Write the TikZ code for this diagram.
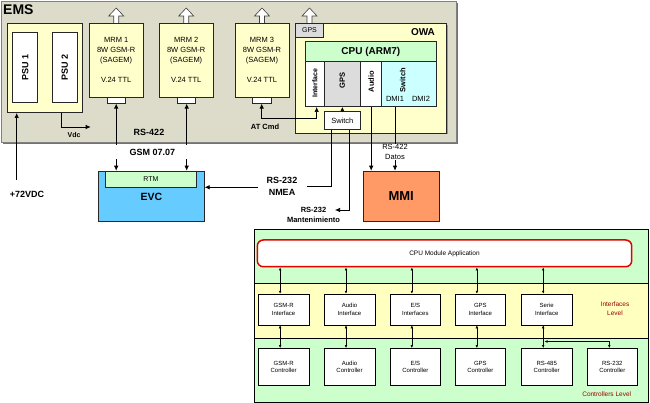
\documentclass[tikz,border=0pt]{standalone}
\usepackage{fontspec}
\setmainfont{Liberation Sans}
\usetikzlibrary{arrows.meta,calc}
\newcommand\fsz[2]{\fontsize{#1}{#2}\selectfont}
\definecolor{emsgrey}{HTML}{DDDBCA}
\definecolor{pale}{HTML}{FFFFCC}
\definecolor{palegreen}{HTML}{CCFFCC}
\definecolor{paleyel}{HTML}{FFFFC0}
\definecolor{palecyan}{HTML}{CCFFFF}
\definecolor{lgrey}{HTML}{DCDCDC}
\definecolor{evcblue}{HTML}{66CCFF}
\definecolor{mmiorange}{HTML}{FF9966}
\definecolor{maroon}{HTML}{990000}
\tikzset{
  box/.style={draw=black!85, line width=0.6pt, inner sep=0pt, align=center},
  arr/.style={-{Latex[length=5pt,width=4.5pt]}, line width=0.7pt},
  arrboth/.style={{Latex[length=5pt,width=4.5pt]}-{Latex[length=5pt,width=4.5pt]}, line width=0.7pt},
  sarr/.style={{Latex[length=3pt,width=2.6pt]}-{Latex[length=3pt,width=2.6pt]}, line width=0.5pt},
  lbl/.style={inner sep=0pt, align=center},
  blk/.style={draw=black, line width=0.5pt, fill=white, inner sep=0pt, align=center,
    minimum width=50.7, font=\fsz{6}{7.5}},
  hollowup/.pic={\draw[fill=white, draw=black!75, line width=0.6pt]
     (-2.5,15) -- (-2.5,8) -- (-7.5,8) -- (0,0) -- (7.5,8) -- (2.5,8) -- (2.5,15);}
}
\begin{document}
\begin{tikzpicture}[x=1pt,y=-1pt]
\path[fill=white,use as bounding box] (0,0) rectangle (650,403);

% ---------- EMS ----------
\fill[black!55] (3,3) rectangle (458,144);
\node[box, draw=black!50, line width=0.6pt, fill=emsgrey, minimum width=455, minimum height=141] (ems) at (228.5,71.5) {};
\node[lbl, font=\fsz{14}{16}\bfseries, anchor=west] (emst) at (3,10) {EMS};

% hollow arrows
\pic at (116.2,8) {hollowup};
\pic at (186.2,8) {hollowup};
\pic at (262,8) {hollowup};
\pic at (309.5,8) {hollowup};

% PSU
\node[box, fill=pale, minimum width=75.4, minimum height=89.4] (psu) at (45,68) {};
\node[box, fill=white, minimum width=25, minimum height=70] (psu1) at (25.2,67.3) {};
\node[box, fill=white, minimum width=25, minimum height=70] (psu2) at (64.8,67.3) {};
\node[lbl, rotate=90, font=\fsz{9}{10}\bfseries] at (psu1) {PSU 1};
\node[lbl, rotate=90, font=\fsz{9}{10}\bfseries] at (psu2) {PSU 2};

% MRM
\node[box, fill=pale, minimum width=54.3, minimum height=74, font=\fsz{7.5}{10}] (mrm1) at (116.2,60.3) {MRM 1\\8W GSM-R\\(SAGEM)\\[10pt]V.24 TTL};
\node[box, fill=pale, minimum width=54.3, minimum height=74, font=\fsz{7.5}{10}] (mrm2) at (186.2,60.3) {MRM 2\\8W GSM-R\\(SAGEM)\\[10pt]V.24 TTL};
\node[box, fill=pale, minimum width=54, minimum height=74, font=\fsz{7.5}{10}] (mrm3) at (262,60.3) {MRM 3\\8W GSM-R\\(SAGEM)\\[10pt]V.24 TTL};
\node[box, fill=white, minimum width=17.7, minimum height=6] (tab1) at (116.2,100.3) {};
\node[box, fill=white, minimum width=17.7, minimum height=6] (tab2) at (186.2,100.3) {};
\node[box, fill=white, minimum width=18.7, minimum height=6] (tab3) at (261.7,100.3) {};

% OWA
\fill[black!40] (297.2,24.8) rectangle (448.2,134.5);
\node[box, fill=pale, minimum width=151, minimum height=109.7] (owa) at (371.2,78.2) {};
\node[box, fill=lgrey, minimum width=27.6, minimum height=14.4, font=\fsz{7}{8}] (gpsb) at (309.5,30.5) {GPS};
\node[lbl, font=\fsz{10}{12}\bfseries] (owat) at (423,32) {OWA};
\node[box, fill=palegreen, minimum width=130.3, minimum height=20, font=\fsz{10}{12}\bfseries] (cpu) at (370.85,51.7) {CPU (ARM7)};
\node[box, fill=white, minimum width=18.3, minimum height=45] (intf) at (314.85,84.2) {};
\node[box, fill=lgrey, minimum width=36.7, minimum height=45] (gpsc) at (342.35,84.2) {};
\node[box, fill=white, minimum width=21, minimum height=45] (audio) at (371.2,84.2) {};
\node[box, fill=palecyan, minimum width=54.3, minimum height=45] (swc) at (408.85,84.2) {};
\node[lbl, rotate=90, font=\fsz{7}{8}\bfseries] at (314.85,83.3) {Interface};
\node[lbl, rotate=90, font=\fsz{7.5}{8}\bfseries] at (342.35,80.5) {GPS};
\node[lbl, rotate=90, font=\fsz{7.5}{8}\bfseries] at (371.2,81.7) {Audio};
\node[lbl, rotate=90, font=\fsz{7.5}{8}\bfseries] at (402.7,80) {Switch};
\node[lbl, font=\fsz{7.5}{8}] (dmi1) at (395,99) {DMI1};
\node[lbl, font=\fsz{7.5}{8}] (dmi2) at (421,99) {DMI2};
\node[box, fill=white, minimum width=36.7, minimum height=17.6, font=\fsz{7.5}{8}] (sw) at (342.35,120.5) {Switch};

% EVC / MMI
\node[box, fill=evcblue, minimum width=106, minimum height=50] (evc) at (151.3,196) {};
\node[box, fill=palegreen, minimum width=91.7, minimum height=16.7, font=\fsz{7}{8}] (rtm) at (150.85,179.35) {RTM};
\node[lbl, font=\fsz{10.5}{12}\bfseries] (evct) at (151.3,196.5) {EVC};
\node[box, fill=mmiorange, minimum width=75.7, minimum height=50, font=\fsz{13}{15}\bfseries] (mmi) at (401.15,196) {MMI};

% labels
\node[lbl, font=\fsz{9}{10}\bfseries] (v72) at (27,194) {+72VDC};
\node[lbl, font=\fsz{7}{8}\bfseries] (vdc) at (74,134.7) {Vdc};
\node[lbl, font=\fsz{9}{10}\bfseries] (rs422) at (149,132) {RS-422};
\node[lbl, font=\fsz{9}{10}\bfseries] (gsm) at (152.5,152.7) {GSM 07.07};
\node[lbl, font=\fsz{7.5}{8}\bfseries] (atcmd) at (265,126.7) {AT Cmd};
\node[lbl, font=\fsz{9}{12.3}\bfseries] (nmea) at (282,186.2) {RS-232\\NMEA};
\node[lbl, font=\fsz{7.5}{10}\bfseries] (mant) at (313.5,215) {RS-232\\Mantenimiento};
\node[lbl, font=\fsz{7.5}{10}] (datos) at (395,152.3) {RS-422\\Datos};

% connectors
\coordinate (c72) at (16.7,180);
\draw[arr] (c72) -- (c72 |- psu.south);
\coordinate (vdcend) at (90.7,127);
\draw[arr] ([xshift=16.7]psu.south) |- (vdcend);
\coordinate (g1a) at (116.2,145);
\coordinate (g2a) at (186.7,145);
\coordinate (g1b) at (116.2,159);
\coordinate (g2b) at (186.7,159);
\draw[arr] (g1a) -- (g1a |- tab1.south);
\draw[arr] (g2a) -- (g2a |- tab2.south);
\draw[arr] (g1b) -- (g1b |- rtm.north);
\draw[arr] (g2b) -- (g2b |- rtm.north);
\draw[arrboth] (tab3.south) -- ++(0,14.4) -| ([xshift=1.8]intf.south);
\draw[-{Latex[length=4pt,width=4pt]}, line width=0.7pt] (sw.north) -- (gpsc.south);
\coordinate (nmeaR) at (306.7,186);
\draw[line width=0.7pt] ([xshift=-10.65]sw.south) |- (nmeaR);
\coordinate (nmeaL) at (258,187.3);
\draw[arr] (nmeaL) -- (nmeaL -| evc.east);
\coordinate (mantR) at (335,210);
\draw[arr] ([xshift=7]sw.south) |- (mantR);
\draw[arr] (audio.south) -- (audio.south |- mmi.north);
\draw[line width=0.7pt] (dmi1.south |- swc.south) -- (datos.north);
\draw[arr] (datos.south) -- (datos.south |- mmi.north);

% ---------- Software block ----------
\node[draw=black, line width=0.6pt, fill=palegreen, minimum width=394, minimum height=54.3, inner sep=0pt, anchor=north west] (bandA) at (254,229) {};
\node[draw=black, line width=0.6pt, fill=paleyel, minimum width=394, minimum height=54.4, inner sep=0pt, anchor=north west] (bandB) at (254,283.3) {};
\node[draw=black, line width=0.6pt, fill=palegreen, minimum width=394, minimum height=64.6, inner sep=0pt, anchor=north west] (bandC) at (254,337.7) {};
\node[draw=red!90!black, line width=1.5pt, fill=white, rounded corners=6pt, minimum width=374.4, minimum height=26.7, inner sep=0pt, font=\fsz{6.5}{8}] (app) at (444.5,253.35) {CPU Module Application};

\node[blk, minimum height=31] (i1) at (283.65,309.5) {GSM-R\\Interface};
\node[blk, minimum height=31] (i2) at (349.5,309.5) {Audio\\Interface};
\node[blk, minimum height=31] (i3) at (415.35,309.5) {E/S\\Interfaces};
\node[blk, minimum height=31] (i4) at (480.35,309.5) {GPS\\Interface};
\node[blk, minimum height=31] (i5) at (546.7,309.5) {Serie\\Interface};
\node[lbl, text=maroon, font=\fsz{6.5}{9}] (ilev) at (615,308.7) {Interfaces\\Level};

\node[blk, minimum height=37.4] (k1) at (283.65,367) {GSM-R\\Controller};
\node[blk, minimum height=37.4] (k2) at (349.5,367) {Audio\\Controller};
\node[blk, minimum height=37.4] (k3) at (415.35,367) {E/S\\Controller};
\node[blk, minimum height=37.4] (k4) at (480.35,367) {GPS\\Controller};
\node[blk, minimum height=37.4] (k5) at (546.7,367) {RS-485\\Controller};
\node[blk, minimum height=37.4] (k6) at (612.3,367) {RS-232\\Controller};
\node[lbl, text=maroon, font=\fsz{6.5}{8}] (klev) at (606.7,394) {Controllers Level};

\foreach \n in {1,...,5}{
  \draw[sarr] ([xshift=-3.5]i\n.north) -- ([xshift=-3.5]i\n.north |- app.south);
  \draw[sarr] ([xshift=-3.5]i\n.south) -- ([xshift=-3.5]i\n.south |- k\n.north);
}
\coordinate (rsj) at (544.5,341.5);
\draw[sarr] (rsj) -| ([xshift=-3]k6.north);
\end{tikzpicture}
\end{document}
